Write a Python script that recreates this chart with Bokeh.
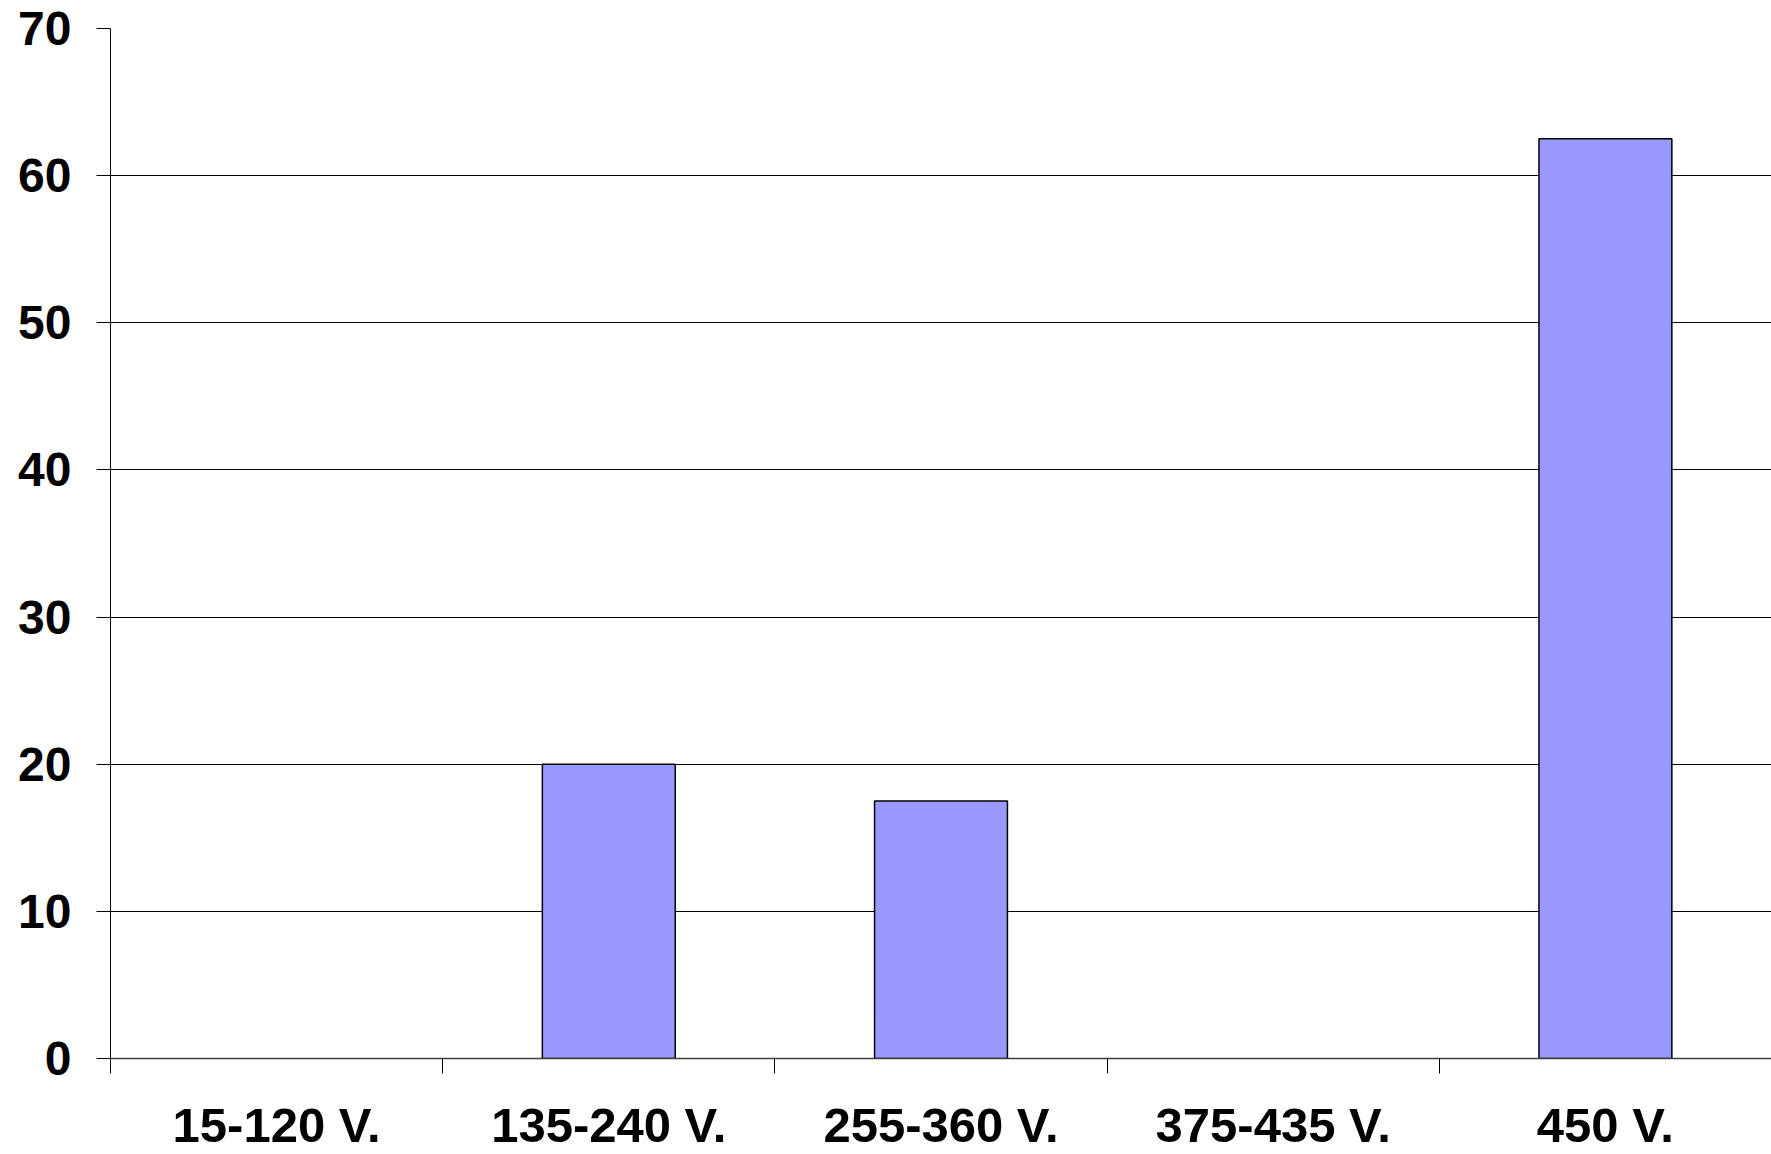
from bokeh.plotting import figure
from bokeh.models import FixedTicker, Range1d, ColumnDataSource
from bokeh.embed import file_html
from bokeh.resources import INLINE

categories = ["15-120 V.", "135-240 V.", "255-360 V.", "375-435 V.", "450 V."]
values = [0, 20, 17.5, 0, 62.5]
y_ticks = [0, 10, 20, 30, 40, 50, 60, 70]

idx = list(range(len(categories)))
centers = [i + 0.5 for i in idx]
bounds = list(range(len(categories) + 1))

nz = ColumnDataSource(dict(x=[c for c, v in zip(centers, values) if v > 0],
                           top=[v for v in values if v > 0]))

p = figure(width=1771, height=1154, output_backend="svg", toolbar_location=None,
           x_range=Range1d(0, len(categories)), y_range=Range1d(0, 70),
           min_border_left=110, min_border_top=28, min_border_right=0, min_border_bottom=80)
p.outline_line_color = None
p.background_fill_color = "white"

p.vbar(x="x", top="top", width=0.4, bottom=0, source=nz,
       fill_color="#9999FF", line_color="black", line_width=1.5)

p.xaxis.ticker = FixedTicker(ticks=centers, minor_ticks=bounds)
p.xaxis.major_label_overrides = {c: cat for c, cat in zip(centers, categories)}
p.xaxis.major_tick_out = 0
p.xaxis.major_tick_in = 0
p.xaxis.minor_tick_out = 15
p.xaxis.minor_tick_in = 0
p.xaxis.minor_tick_line_color = "black"
p.xaxis.axis_line_color = "#404040"
p.xaxis.axis_line_width = 1.5
p.xaxis.major_label_standoff = 24
p.xaxis.major_label_text_font = "Liberation Sans"
p.xaxis.major_label_text_font_style = "bold"
p.xaxis.major_label_text_font_size = "49px"
p.xaxis.major_label_text_color = "black"

p.yaxis.ticker = FixedTicker(ticks=y_ticks)
p.yaxis.major_tick_out = 14
p.yaxis.major_tick_in = 0
p.yaxis.minor_tick_out = 0
p.yaxis.axis_line_color = "black"
p.yaxis.major_tick_line_color = "black"
p.yaxis.major_label_standoff = 25
p.yaxis.major_label_text_font = "Liberation Sans"
p.yaxis.major_label_text_font_style = "bold"
p.yaxis.major_label_text_font_size = "48px"
p.yaxis.major_label_text_color = "black"

p.xgrid.grid_line_color = None
p.ygrid.grid_line_color = "black"
p.ygrid.grid_line_width = 1
p.ygrid.ticker = FixedTicker(ticks=y_ticks)

open("out.html", "w").write(file_html(p, INLINE))
